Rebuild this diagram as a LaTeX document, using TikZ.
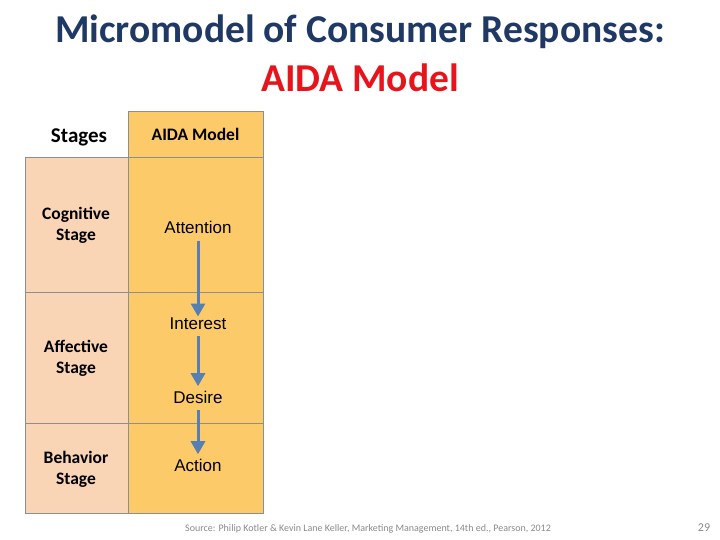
\documentclass[tikz,border=0pt]{standalone}
\usepackage{fontspec}
\setmainfont{Carlito}
\newfontfamily\arialf{Liberation Sans}
\usetikzlibrary{arrows.meta}
\definecolor{titleblue}{HTML}{1F3864}
\definecolor{titlered}{HTML}{E8141B}
\definecolor{peach}{HTML}{F9D5B6}
\definecolor{gold}{HTML}{FDCA6A}
\definecolor{gridgray}{HTML}{8E8E8E}
\definecolor{arrowblue}{HTML}{5580B4}
\definecolor{srcgray}{HTML}{8A8A8A}
\tikzset{
  cell/.style={draw=gridgray, line width=0.8pt},
  stagetxt/.style={font=\fontsize{17.5}{21}\selectfont\bfseries, align=center, text=black},
  aidatxt/.style={font=\arialf\fontsize{17}{20}\selectfont, text=black},
  flow/.style={draw=arrowblue, line width=3pt, -{Triangle[width=14pt,length=13pt]}},
}
\begin{document}
\begin{tikzpicture}[x=1pt,y=-1pt]
\useasboundingbox[fill=white] (0,0) rectangle (720,540);
% title
\node[font=\fontsize{39.5}{42}\selectfont\bfseries, text=titleblue] (t1) at (360,32) {Micromodel of Consumer Responses:};
\node[font=\fontsize{39.5}{42}\selectfont\bfseries, text=titlered] (t2) at (360,78) {AIDA Model};
% cells
\fill[peach] (25,157) rectangle (128,513);
\fill[gold] (128,111) rectangle (263,513);
\draw[cell] (128,111) rectangle (263,157);
\draw[cell] (25,157) rectangle (263,513);
\draw[cell] (128,111) -- (128,513);
\draw[cell] (25,292.5) -- (263,292.5);
\draw[cell] (25,423) -- (263,423);
% headers
\node[font=\fontsize{21}{24}\selectfont\bfseries] (hs) at (79,137) {Stages};
\node[font=\fontsize{17.5}{20}\selectfont\bfseries] (ha) at (195.5,134) {AIDA Model};
% stages
\node[stagetxt] (s1) at (76,225) {Cognitive\\Stage};
\node[stagetxt] (s2) at (76,358) {Affective\\Stage};
\node[stagetxt] (s3) at (76,469) {Behavior\\Stage};
% aida
\node[aidatxt] (a1) at (198,227) {Attention};
\node[aidatxt] (a2) at (198,324) {Interest};
\node[aidatxt] (a3) at (198,397) {Desire};
\node[aidatxt] (a4) at (198,465) {Action};
\draw[flow] ([yshift=-4pt]a1.south) -- ([yshift=-2pt]a2.north);
\draw[flow] ([yshift=-3pt]a2.south) -- ([yshift=1pt]a3.north);
\draw[flow] ([yshift=-3pt]a3.south) -- ([yshift=1pt]a4.north);
% footer
\node[font=\fontsize{10}{12}\selectfont, text=srcgray] (src) at (368,529) {Source: Philip Kotler \& Kevin Lane Keller, Marketing Management, 14th ed., Pearson, 2012};
\node[font=\fontsize{12}{14}\selectfont, text=srcgray] (pg) at (704,528) {29};
\end{tikzpicture}
\end{document}
